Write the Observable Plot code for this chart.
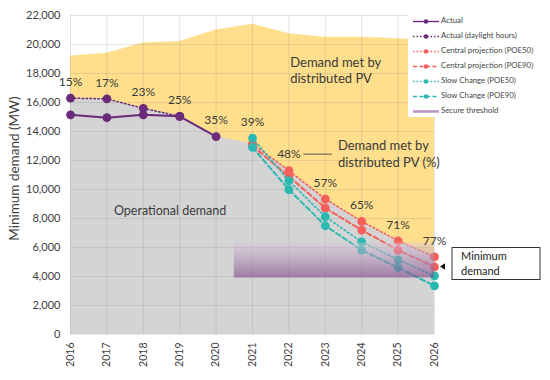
<!DOCTYPE html>
<html><head><meta charset="utf-8">
<script src="https://cdn.jsdelivr.net/npm/d3@7"></script>
<script src="https://cdn.jsdelivr.net/npm/@observablehq/plot@0.6"></script>
<style>
body{margin:0;background:#fff;}
#chart{position:relative;width:550px;height:380px;}
</style>
</head><body><div id="chart"></div>
<script>
// ---------- data ----------
const years = [2016, 2017, 2018, 2019, 2020, 2021, 2022, 2023, 2024, 2025, 2026];
const totalDemand = [19200, 19400, 20100, 20200, 21000, 21400, 20750, 20500, 20500, 20400, 20250];
const operationalDemand = [16300, 16250, 15600, 15050, 13650, 13150, 11300, 9340, 7800, 6460, 5360];
const actualYears = [2016, 2017, 2018, 2019, 2020];
const actual = [15150, 14950, 15150, 15050, 13650];
const daylightYears = [2016, 2017, 2018, 2019];
const actualDaylight = [16300, 16250, 15600, 15050];
const projYears = [2021, 2022, 2023, 2024, 2025, 2026];
const centralPOE50 = [13150, 11300, 9340, 7800, 6460, 5360];
const centralPOE90 = [13000, 10900, 8720, 7200, 5820, 4660];
const slowPOE50 = [13550, 10600, 8120, 6390, 5150, 4040];
const slowPOE90 = [12900, 9990, 7500, 5820, 4620, 3350];
const pvShare = ["15%", "17%", "23%", "25%", "35%", "39%", "48%", "57%", "65%", "71%", "77%"];
const secureX = [2020.5, 2026];
const secureY = [3900, 6300];
const yTicks = [0, 2000, 4000, 6000, 8000, 10000, 12000, 14000, 16000, 18000, 20000, 22000];

// ---------- tables ----------
const areaRows = years.map((y, i) => ({year: y, total: totalDemand[i], op: operationalDemand[i]}));
const mk = (ys, vs) => ys.map((y, i) => ({year: y, v: vs[i]}));
const sActual = mk(actualYears, actual);
const sDay = mk(daylightYears, actualDaylight);
const sC50 = mk(projYears, centralPOE50);
const sC90 = mk(projYears, centralPOE90);
const sS50 = mk(projYears, slowPOE50);
const sS90 = mk(projYears, slowPOE90);
const allPts = [...sActual, ...sDay, ...sC50, ...sC90, ...sS50, ...sS90];
const labelRows = years.map((y, i) => ({
  year: y, text: pvShare[i],
  v: d3.max(allPts.filter(p => p.year === y), p => p.v)
}));
const band = [{x1: secureX[0], x2: secureX[1], y1: secureY[0], y2: secureY[1]}];

const PURPLE = "#6b2a7a", RED = "#f6605a", TEAL = "#2ab9b1";
const textColor = "#3a3a3a";

const plot = Plot.plot({
  width: 550, height: 380,
  marginLeft: 70, marginRight: 116, marginTop: 15, marginBottom: 46,
  style: {fontFamily: "Lato, sans-serif", fontSize: "11px", color: "#404040", background: "transparent"},
  x: {domain: [2016, 2026]},
  y: {domain: [0, 22000]},
  marks: [
    Plot.areaY(areaRows, {x: "year", y: "total", fill: "#ffdf8c"}),
    Plot.areaY(areaRows, {x: "year", y: "op", fill: "#d4d4d4"}),
    Plot.gridX({ticks: years, stroke: "#888", strokeOpacity: 0.22, strokeWidth: 1}),
    Plot.gridY({ticks: yTicks, stroke: "#888", strokeOpacity: 0.22, strokeWidth: 1}),
    Plot.axisY({ticks: yTicks, tickFormat: d3.format(","), tickSize: 0, tickPadding: 10, fontSize: 11, label: null}),
    Plot.axisX({ticks: years, tickFormat: d => String(d), tickSize: 0, tickPadding: 8, tickRotate: -90, fontSize: 10.5, label: null}),
    // actual
    Plot.line(sDay, {x: "year", y: "v", stroke: PURPLE, strokeWidth: 1.5, strokeDasharray: "1.5,2.4"}),
    Plot.line(sActual, {x: "year", y: "v", stroke: PURPLE, strokeWidth: 2}),
    Plot.dot(sDay, {x: "year", y: "v", fill: PURPLE, r: 4.4}),
    Plot.dot(sActual, {x: "year", y: "v", fill: PURPLE, r: 4.4}),
    // central
    Plot.line(sC50, {x: "year", y: "v", stroke: RED, strokeWidth: 1.6, strokeDasharray: "1.6,2.6"}),
    Plot.line(sC90, {x: "year", y: "v", stroke: RED, strokeWidth: 2, strokeDasharray: "5,3"}),
    Plot.dot(sC50, {x: "year", y: "v", fill: RED, r: 4.4}),
    Plot.dot(sC90, {x: "year", y: "v", fill: RED, r: 4.4}),
    // slow change
    Plot.line(sS50, {x: "year", y: "v", stroke: TEAL, strokeWidth: 1.6, strokeDasharray: "1.6,2.6"}),
    Plot.line(sS90, {x: "year", y: "v", stroke: TEAL, strokeWidth: 2, strokeDasharray: "5,3"}),
    Plot.dot(sS90, {x: "year", y: "v", fill: TEAL, r: 4.4}),
    Plot.dot(sS50, {x: "year", y: "v", fill: TEAL, r: 4.4}),
    // secure threshold band
    Plot.rect(band, {x1: "x1", x2: "x2", y1: "y1", y2: "y2", fill: "url(#secureGrad)"}),
    // percentages
    Plot.text(labelRows, {x: "year", y: "v", text: "text", dy: -16, fontSize: 12, fill: textColor})
  ]
});

// gradient def
const svg = d3.select(plot);
const defs = svg.insert("defs", ":first-child");
const g = defs.append("linearGradient").attr("id", "secureGrad")
  .attr("x1", 0).attr("y1", 0).attr("x2", 0).attr("y2", 1);
g.append("stop").attr("offset", "0%").attr("stop-color", "#d9c8db").attr("stop-opacity", 0.45);
g.append("stop").attr("offset", "100%").attr("stop-color", "#7f4589").attr("stop-opacity", 0.62);

const X = v => plot.scale("x").apply(v);
const Y = v => plot.scale("y").apply(v);
const ann = svg.append("g").attr("font-family", "Lato, sans-serif").attr("fill", textColor)
  .attr("text-anchor", "start");

// y axis title
ann.append("text")
  .attr("transform", `translate(16,${(Y(0) + Y(22000)) / 2 - 6}) rotate(-90)`)
  .attr("text-anchor", "middle").attr("dominant-baseline", "middle")
  .attr("font-size", 13.5).attr("fill", "#404040")
  .text("Minimum demand (MW)");

// annotations
const t1 = ann.append("text").attr("font-size", 13).attr("x", X(2022.05)).attr("y", Y(18150));
t1.append("tspan").attr("x", X(2022.05)).attr("dy", "-0.3em").text("Demand met by");
t1.append("tspan").attr("x", X(2022.05)).attr("dy", "1.25em").text("distributed PV");

const pvY = Y(labelRows[6].v) - 16;
const t2 = ann.append("text").attr("font-size", 13).attr("x", X(2023.36)).attr("y", pvY);
t2.append("tspan").attr("x", X(2023.36)).attr("dy", "-0.3em").text("Demand met by");
t2.append("tspan").attr("x", X(2023.36)).attr("dy", "1.25em").text("distributed PV (%)");
ann.append("line").attr("x1", X(2022) + 15).attr("x2", X(2023.36) - 6)
  .attr("y1", pvY).attr("y2", pvY).attr("stroke", "#555").attr("stroke-width", 1);

ann.append("text").attr("font-size", 12.5).attr("text-anchor", "middle")
  .attr("x", X(2018.75)).attr("y", Y(8400)).attr("dominant-baseline", "middle")
  .text("Operational demand");

// minimum demand call-out
const box = svg.append("g").attr("font-family", "Lato, sans-serif").attr("text-anchor", "start");
box.append("path").attr("d", `M${X(2026) + 6},${Y(centralPOE90[5])} l5,-3.2 v6.4 z`).attr("fill", "#111");
box.append("rect").attr("x", 452).attr("y", 247.5).attr("width", 88).attr("height", 32)
  .attr("fill", "#fff").attr("stroke", "#333").attr("stroke-width", 1);
box.append("text").attr("x", 461).attr("y", 260).attr("font-size", 11).attr("fill", "#222").text("Minimum");
box.append("text").attr("x", 461).attr("y", 275).attr("font-size", 11).attr("fill", "#222").text("demand");

// legend
const lg = svg.append("g").attr("font-family", "Lato, sans-serif").attr("text-anchor", "start");
lg.append("rect").attr("x", 408).attr("y", 9).attr("width", 142).attr("height", 108).attr("fill", "#fff");
const items = [
  {label: "Actual", color: PURPLE, dash: null, dot: true},
  {label: "Actual (daylight hours)", color: PURPLE, dash: "1.5,2", dot: true},
  {label: "Central projection (POE50)", color: RED, dash: "1.5,2", dot: true},
  {label: "Central projection (POE90)", color: RED, dash: "4,2.5", dot: true},
  {label: "Slow Change (POE50)", color: TEAL, dash: "1.5,2", dot: true},
  {label: "Slow Change (POE90)", color: TEAL, dash: "4,2.5", dot: true},
  {label: "Secure threshold", color: "#b995c2", dash: null, dot: false}
];
items.forEach((it, i) => {
  const yy = 21.5 + i * 15;
  lg.append("line").attr("x1", 413).attr("x2", 439).attr("y1", yy).attr("y2", yy)
    .attr("stroke", it.color).attr("stroke-width", it.dot ? 1.4 : 2.5)
    .attr("stroke-dasharray", it.dash);
  if (it.dot) lg.append("circle").attr("cx", 426).attr("cy", yy).attr("r", 2.3).attr("fill", it.color);
  lg.append("text").attr("x", 441).attr("y", yy).attr("dominant-baseline", "middle")
    .attr("font-size", 7.8).attr("fill", "#444").text(it.label);
});

document.getElementById("chart").appendChild(plot);
</script>
</body></html>
